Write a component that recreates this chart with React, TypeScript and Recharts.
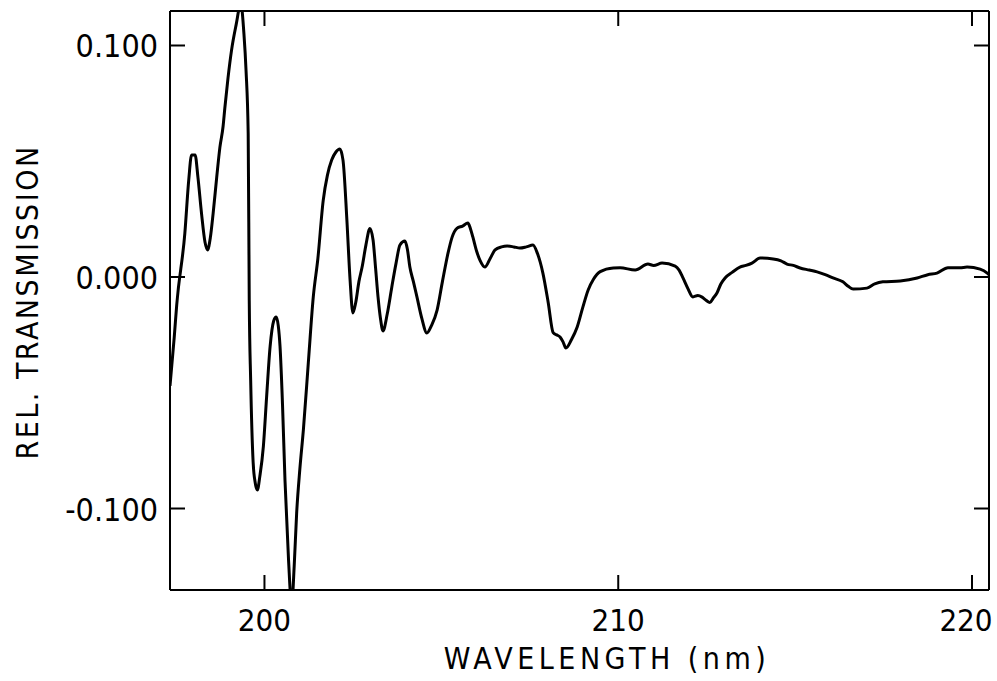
import { LineChart, Line, XAxis, YAxis } from "recharts";

const wavelengths = [
  197.33, 197.45, 197.52, 197.75, 197.86, 197.94, 198.04, 198.12, 198.22, 198.32,
  198.39, 198.47, 198.55, 198.65, 198.74, 198.83, 198.88, 198.97, 199.07, 199.2,
  199.33, 199.42, 199.48, 199.54, 199.57, 199.61, 199.68, 199.74, 199.8, 199.87,
  199.97, 200.06, 200.16, 200.26, 200.33, 200.39, 200.44, 200.51, 200.58, 200.68,
  200.77, 200.84, 200.91, 201.0, 201.1, 201.24, 201.38, 201.51, 201.66, 201.78,
  201.9, 202.02, 202.13, 202.22, 202.33, 202.42, 202.5, 202.58, 202.67, 202.76,
  202.87, 202.98, 203.07, 203.14, 203.21, 203.28, 203.35, 203.47, 203.6, 203.72,
  203.83, 203.97, 204.04, 204.11, 204.21, 204.31, 204.45, 204.59, 204.72, 204.88,
  205.03, 205.19, 205.3, 205.44, 205.6, 205.75, 205.82, 205.89, 206.0, 206.09,
  206.23, 206.38, 206.52, 206.7, 206.86, 207.05, 207.22, 207.4, 207.59, 207.72,
  207.87, 208.02, 208.16, 208.26, 208.36, 208.44, 208.52, 208.68, 208.84, 209.0,
  209.15, 209.3, 209.49, 209.86, 210.05, 210.48, 210.84, 211.0, 211.24, 211.61,
  211.72, 211.83, 211.97, 212.11, 212.25, 212.37, 212.48, 212.59, 212.69, 212.79,
  212.9, 213.02, 213.22, 213.44, 213.61, 213.78, 214.01, 214.38, 214.6, 214.77,
  214.95, 215.14, 215.4, 215.62, 215.85, 216.07, 216.35, 216.5, 216.64, 217.03,
  217.25, 217.48, 217.97, 218.45, 218.75, 219.01, 219.32, 219.66, 219.86, 220.23,
  220.43, 220.48,
];

const transmission = [
  -0.047, -0.026, -0.012, 0.019, 0.042, 0.0527, 0.0527, 0.043, 0.0276, 0.015,
  0.0117, 0.017, 0.0276, 0.043, 0.056, 0.065, 0.073, 0.086, 0.098, 0.109,
  0.118, 0.105, 0.089, 0.062, -0.01, -0.0445, -0.08, -0.089, -0.092, -0.086,
  -0.073, -0.052, -0.03, -0.019, -0.0173, -0.021, -0.03, -0.055, -0.0877, -0.122,
  -0.142, -0.125, -0.102, -0.083, -0.066, -0.037, -0.0086, 0.008, 0.033, 0.044,
  0.0505, 0.054, 0.0553, 0.0505, 0.0246, -0.0013, -0.0155, -0.011, -0.002, 0.0043,
  0.014, 0.021, 0.016, 0.004, -0.0086, -0.018, -0.0233, -0.016, -0.0043, 0.006,
  0.0138, 0.0155, 0.012, 0.0043, -0.002, -0.0086, -0.018, -0.0242, -0.021, -0.0143,
  -0.002, 0.0104, 0.017, 0.021, 0.022, 0.0233, 0.021, 0.0173, 0.011, 0.0073,
  0.0043, 0.008, 0.0117, 0.013, 0.0134, 0.013, 0.0125, 0.013, 0.0138, 0.01,
  0.0017, -0.011, -0.024, -0.025, -0.026, -0.028, -0.0307, -0.027, -0.0216, -0.013,
  -0.0056, -0.001, 0.0023, 0.0039, 0.004, 0.003, 0.0056, 0.005, 0.006, 0.0047,
  0.003, -0.0004, -0.005, -0.0086, -0.008, -0.0087, -0.01, -0.011, -0.009, -0.0069,
  -0.003, -0.0004, 0.002, 0.0043, 0.005, 0.006, 0.0082, 0.0078, 0.007, 0.0056,
  0.005, 0.0039, 0.003, 0.0022, 0.001, -0.0004, -0.0021, -0.004, -0.0052, -0.0048,
  -0.003, -0.0021, -0.0017, -0.0004, 0.001, 0.0017, 0.004, 0.004, 0.0043, 0.0034,
  0.0017, 0.001,
];

const xTicks = [200, 210, 220];
const yTicks = [-0.1, 0, 0.1];

const data = wavelengths.map((w, i) => ({ w, t: transmission[i] }));

const FONT = "'DejaVu Sans Condensed', 'DejaVu Sans', sans-serif";
const TICK_LEN = 15;

const BottomTick = (props: any) => {
  const { x, y, payload } = props;
  // keep the last label inside the picture, as in the original
  const tx = Math.min(x, 966);
  return (
    <g>
      <line x1={x} y1={y} x2={x} y2={y - TICK_LEN} stroke="#000" strokeWidth={2} />
      <text x={tx} y={y + 41} textAnchor="middle" fontSize={31} fontFamily={FONT} fill="#000">
        {payload.value}
      </text>
    </g>
  );
};

const LeftTick = (props: any) => {
  const { x, y, payload } = props;
  return (
    <g>
      <line x1={x} y1={y} x2={x + TICK_LEN} y2={y} stroke="#000" strokeWidth={2} />
      <text x={x - 12} y={y + 12} textAnchor="end" fontSize={32} fontFamily={FONT} fill="#000">
        {Number(payload.value).toFixed(3)}
      </text>
    </g>
  );
};

const TopTick = (props: any) => {
  const { x, y } = props;
  return <line x1={x} y1={y} x2={x} y2={y + TICK_LEN} stroke="#000" strokeWidth={2} />;
};

const RightTick = (props: any) => {
  const { x, y } = props;
  return <line x1={x} y1={y} x2={x - TICK_LEN} y2={y} stroke="#000" strokeWidth={2} />;
};

export default function App() {
  return (
    <div style={{ position: "absolute", left: 0, top: 0, background: "#fff" }}>
      <LineChart
        width={997}
        height={681}
        data={data}
        margin={{ top: 10, right: 7, left: 0, bottom: 0 }}
      >
        <XAxis
          xAxisId="bottom"
          dataKey="w"
          type="number"
          domain={[197.33, 220.48]}
          ticks={xTicks}
          allowDataOverflow
          height={91}
          tickSize={0}
          tickMargin={0}
          tickLine={false}
          axisLine={{ stroke: "#000", strokeWidth: 2 }}
          tick={<BottomTick />}
          label={{
            content: () => (
              <text
                x={607}
                y={669}
                textAnchor="middle"
                fontSize={30}
                letterSpacing={4.5}
                fontFamily={FONT}
                fill="#000"
              >
                WAVELENGTH (nm)
              </text>
            ),
          }}
        />
        <XAxis
          xAxisId="top"
          orientation="top"
          dataKey="w"
          type="number"
          domain={[197.33, 220.48]}
          ticks={xTicks}
          allowDataOverflow
          height={1}
          tickSize={0}
          tickMargin={0}
          tickLine={false}
          axisLine={{ stroke: "#000", strokeWidth: 2 }}
          tick={<TopTick />}
        />
        <YAxis
          yAxisId="left"
          type="number"
          domain={[-0.1352, 0.1149]}
          ticks={yTicks}
          allowDataOverflow
          width={170}
          tickSize={0}
          tickMargin={0}
          tickLine={false}
          axisLine={{ stroke: "#000", strokeWidth: 2 }}
          tick={<LeftTick />}
          label={{
            content: () => (
              <text
                x={27}
                y={302}
                transform="rotate(-90 27 302)"
                textAnchor="middle"
                dominantBaseline="central"
                fontSize={30}
                letterSpacing={2.5}
                fontFamily={FONT}
                fill="#000"
              >
                REL. TRANSMISSION
              </text>
            ),
          }}
        />
        <YAxis
          yAxisId="right"
          orientation="right"
          type="number"
          domain={[-0.1352, 0.1149]}
          ticks={yTicks}
          allowDataOverflow
          width={1}
          tickSize={0}
          tickMargin={0}
          tickLine={false}
          axisLine={{ stroke: "#000", strokeWidth: 2 }}
          tick={<RightTick />}
        />
        <Line
          xAxisId="bottom"
          yAxisId="left"
          dataKey="t"
          type="monotone"
          stroke="#000"
          strokeWidth={3}
          dot={false}
          isAnimationActive={false}
        />
      </LineChart>
    </div>
  );
}
